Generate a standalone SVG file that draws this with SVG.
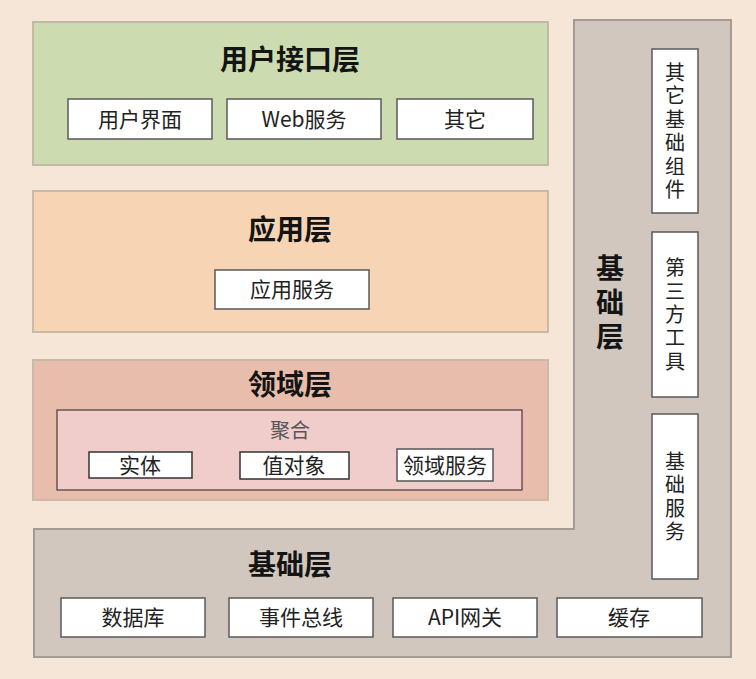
<svg xmlns="http://www.w3.org/2000/svg" width="756" height="679" viewBox="0 0 756 679">
<style>
.layer{stroke-width:2}
.box{fill:#ffffff;stroke:#5a5a5a;stroke-width:1.5}
.title{font-family:"Noto Sans CJK SC","Liberation Sans",sans-serif;font-size:28px;font-weight:bold;fill:#141414;text-anchor:middle}
.lbl{font-family:"Noto Sans CJK SC","Liberation Sans",sans-serif;font-size:21px;fill:#222;text-anchor:middle}
.vl{font-family:"Noto Sans CJK SC","Liberation Sans",sans-serif;font-size:20px;fill:#222;text-anchor:middle;writing-mode:vertical-rl;letter-spacing:3.4px}
.vt{writing-mode:vertical-rl;letter-spacing:6px}
</style>
<rect x="0" y="0" width="756" height="679" fill="#f6e6d8"/>

<g id="foundation">
<path class="layer" d="M574,20 H731 V657 H34 V529 H574 Z" fill="#d1c7be" stroke="#a59b93"/>
<text class="title vt" x="610" y="305">基础层</text>
<text class="title" x="290" y="575">基础层</text>
</g>

<g id="ui-layer">
<rect class="layer" x="33" y="22" width="515" height="143" fill="#cddbb1" stroke="#c2baa6"/>
<text class="title" x="290" y="70">用户接口层</text>
</g>
<g id="ui-screen"><rect class="box" x="68" y="99" width="144" height="40"/><text class="lbl" x="140" y="127">用户界面</text></g>
<g id="ui-web"><rect class="box" x="227" y="99" width="154" height="40"/><text class="lbl" x="304" y="127">Web服务</text></g>
<g id="ui-other"><rect class="box" x="397" y="99" width="136" height="40"/><text class="lbl" x="465" y="127">其它</text></g>

<g id="app-layer">
<rect class="layer" x="33" y="191" width="515" height="141" fill="#f7d4b4" stroke="#c9b9a6"/>
<text class="title" x="290" y="240">应用层</text>
</g>
<g id="app-service"><rect class="box" x="215" y="270" width="154" height="39"/><text class="lbl" x="292" y="297">应用服务</text></g>

<g id="domain-layer">
<rect class="layer" x="33" y="360" width="515" height="140" fill="#e8bdab" stroke="#cdb9aa"/>
<text class="title" x="290" y="395">领域层</text>
</g>
<g id="aggregate">
<rect x="57" y="410" width="465" height="80" fill="#f0cdcb" stroke="#4a3a3a" stroke-width="1.2"/>
<text class="lbl" x="290" y="438" style="font-size:20px;fill:#555">聚合</text>
</g>
<g id="entity"><rect class="box" x="89" y="452" width="103" height="26" style="stroke:#333"/><text class="lbl" x="140" y="473">实体</text></g>
<g id="value-object"><rect class="box" x="240" y="452" width="109" height="27" style="stroke:#333"/><text class="lbl" x="294" y="473">值对象</text></g>
<g id="domain-service"><rect class="box" x="397" y="449" width="96" height="32" style="stroke:#555"/><text class="lbl" x="445" y="473">领域服务</text></g>

<g id="other-infra"><rect class="box" x="652" y="49" width="46" height="164"/>
<text class="vl" x="675" y="132.7">其它基础组件</text></g>
<g id="third-party"><rect class="box" x="652" y="232" width="46" height="165"/>
<text class="vl" x="675" y="316.2">第三方工具</text></g>
<g id="infra-service"><rect class="box" x="652" y="414" width="46" height="165"/>
<text class="vl" x="675" y="498.2">基础服务</text></g>

<g id="database"><rect class="box" x="61" y="598" width="144" height="39"/><text class="lbl" x="133" y="625">数据库</text></g>
<g id="event-bus"><rect class="box" x="229" y="598" width="144" height="39"/><text class="lbl" x="301" y="625">事件总线</text></g>
<g id="api-gateway"><rect class="box" x="393" y="598" width="144" height="39"/><text class="lbl" x="465" y="625">API网关</text></g>
<g id="cache"><rect class="box" x="557" y="598" width="145" height="39"/><text class="lbl" x="629" y="625">缓存</text></g>

<g id="connectors"></g>
</svg>
